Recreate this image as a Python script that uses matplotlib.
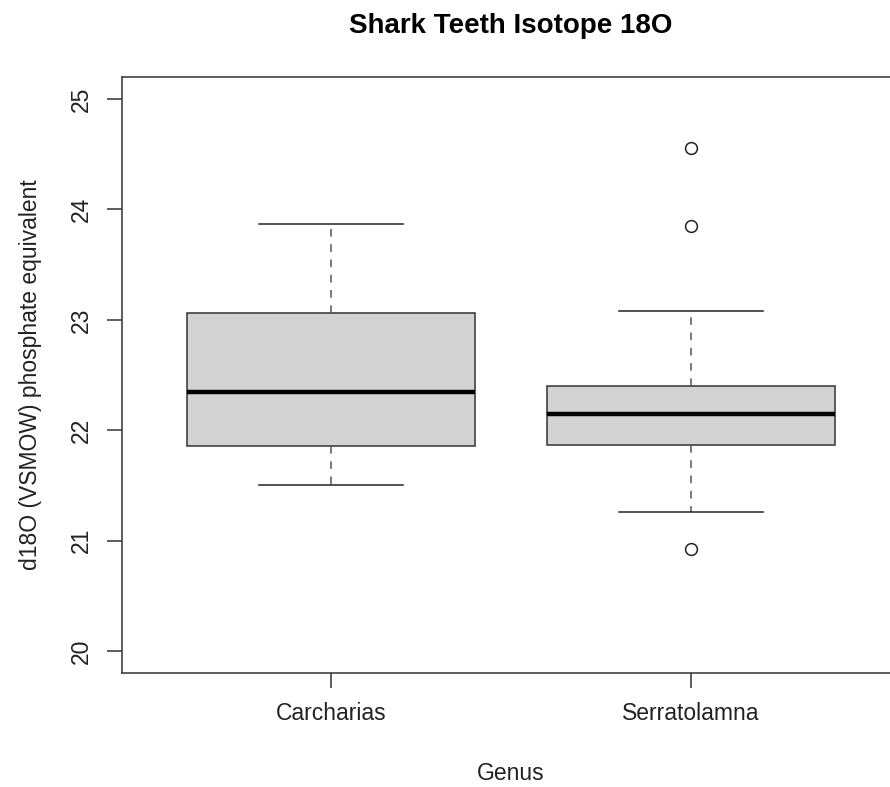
import matplotlib.pyplot as plt

plt.rcParams['font.family'] = ['Liberation Sans', 'DejaVu Sans']

# box stats
genus = ['Carcharias', 'Serratolamna']
whisker_low = [21.50, 21.26]
q1 = [21.86, 21.87]
median = [22.35, 22.15]
q3 = [23.06, 22.40]
whisker_high = [23.87, 23.08]
outliers = [[], [24.56, 23.85, 20.92]]

stats = []
for i in range(len(genus)):
    stats.append({'label': genus[i], 'whislo': whisker_low[i], 'q1': q1[i],
                  'med': median[i], 'q3': q3[i], 'whishi': whisker_high[i],
                  'fliers': outliers[i]})

fig = plt.figure(figsize=(8.9, 7.87), dpi=100)
ax = fig.add_axes([122/890, 114/787, 778/890, 596/787])

ax.bxp(stats, positions=[1, 2], widths=0.8, patch_artist=True,
       boxprops=dict(facecolor='#d3d3d3', edgecolor='#333333', linewidth=1.1),
       medianprops=dict(color='black', linewidth=3.2),
       whiskerprops=dict(color='#555555', linewidth=1.1, linestyle=(0, (5, 5))),
       capprops=dict(color='#222222', linewidth=1.1),
       capwidths=0.4,
       flierprops=dict(marker='o', markerfacecolor='none', markeredgecolor='#222222',
                       markersize=8.5, markeredgewidth=1.1))

ax.set_xlim(0.42, 2.58)
ax.set_ylim(19.8, 25.2)
ax.set_yticks([20, 21, 22, 23, 24, 25])
ax.set_xticks([1, 2])
ax.set_xticklabels(genus)

for s in ax.spines.values():
    s.set_color('#333333')
    s.set_linewidth(1.1)

ax.tick_params(axis='both', length=11, width=1.1, color='#333333', labelsize=16.5,
               labelcolor='#222222')
ax.tick_params(axis='x', pad=10)
ax.tick_params(axis='y', pad=10, labelrotation=90)
for lab in ax.get_yticklabels():
    lab.set_va('center')

ax.set_title('Shark Teeth Isotope 18O', fontsize=20, fontweight='bold', pad=32)
ax.set_ylabel('d18O (VSMOW) phosphate equivalent', fontsize=16.5, color='#222222')
ax.yaxis.set_label_coords(-0.118, 0.5)
ax.set_xlabel('Genus', fontsize=16.5, color='#222222')
ax.xaxis.set_label_coords(0.5, -0.168)
ax.xaxis.label.set_va('center')
ax.yaxis.label.set_va('center')

fig.savefig('out.png', dpi=100)
